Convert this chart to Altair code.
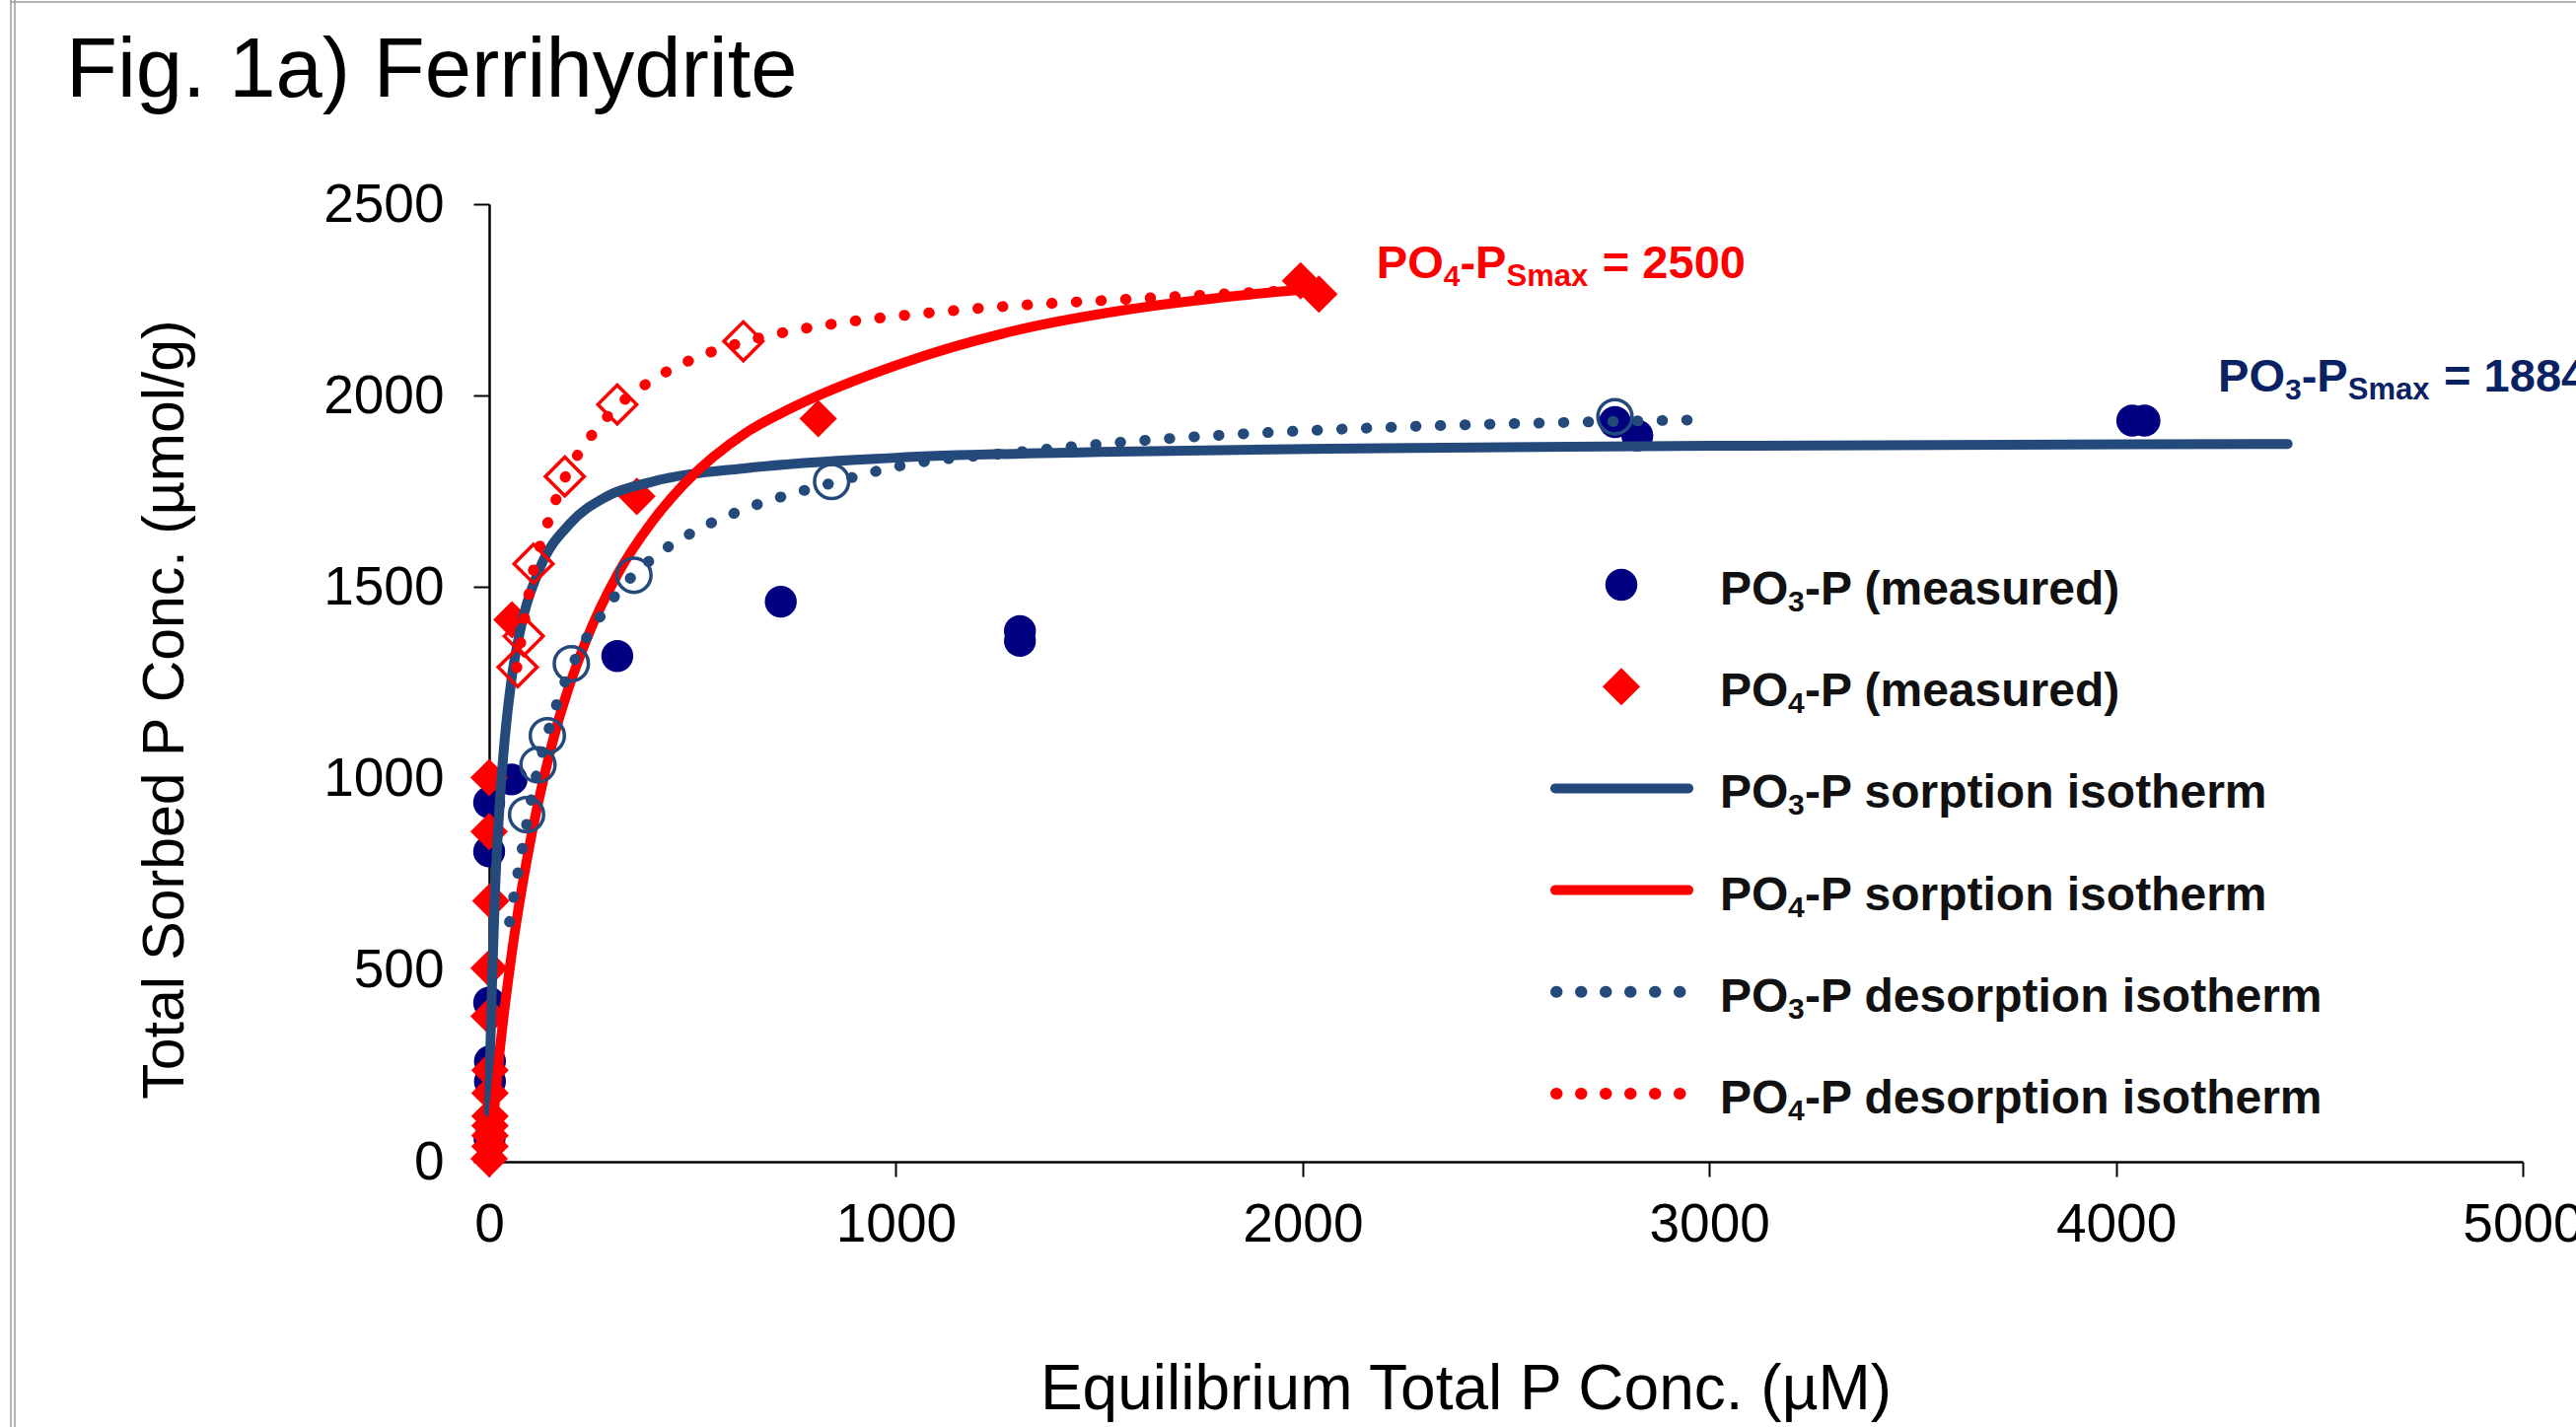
import altair as alt
import pandas as pd

FONT = "Liberation Sans"
BLUE = "#244A7C"
NAVY = "#000080"
RED = "#FF0000"
DARKBLUE = "#0A2164"
INK = "#111111"

# ---------------- data ----------------
# PO3-P measured (filled navy circles)
po3_meas_c = [1, 2, 2, 0, 0, 0, 55, 315, 717, 1305, 1305, 2768, 2823, 4040, 4070]
po3_meas_s = [60, 210, 262, 415, 810, 938, 998, 1320, 1462, 1385, 1360, 1931, 1896, 1935, 1935]

# PO4-P measured (filled red diamonds)
po4_meas_c = [0, 2, 2, 2, 2, 2, 2, 0, 0, 4, 0, 0, 56, 363, 809, 1995, 2040]
po4_meas_s = [8, 40, 68, 94, 119, 179, 239, 380, 505, 681, 862, 1003, 1415, 1737, 1940, 2300, 2265]

# PO3-P desorption measured (open circles)
po3_des_c = [92, 120, 143, 202, 356, 842, 2768]
po3_des_s = [906, 1036, 1112, 1300, 1531, 1776, 1945]

# PO4-P desorption measured (open diamonds)
po4_des_c = [70, 85, 109, 186, 315, 625]
po4_des_s = [1291, 1372, 1561, 1789, 1977, 2142]

# PO3-P sorption isotherm (solid blue)
po3_sorp_c = [0, 3, 8, 15, 25, 38, 55, 77, 125, 198, 286, 400, 642, 1000, 1500, 2200, 3000, 4422]
po3_sorp_s = [130, 300, 500, 720, 920, 1100, 1260, 1390, 1550, 1665, 1735, 1775, 1812, 1838, 1853, 1863, 1869, 1874]

# PO4-P sorption isotherm (solid red)
po4_sorp_c = [2, 25, 57, 93, 152, 238, 319, 400, 480, 634, 738, 1016, 1294, 1572, 1850, 2010]
po4_sorp_s = [20, 280, 555, 790, 1080, 1360, 1540, 1670, 1770, 1905, 1965, 2085, 2170, 2225, 2262, 2278]

# PO3-P desorption isotherm (dotted blue)
po3_desc_c = [50, 70, 89, 108, 139, 171, 220, 280, 319, 400, 500, 614, 843, 1016, 1294, 1572, 1850, 2128, 2407, 2685, 2977]
po3_desc_s = [626, 750, 862, 970, 1100, 1210, 1330, 1434, 1490, 1574, 1643, 1698, 1772, 1818, 1852, 1880, 1900, 1914, 1924, 1931, 1937]

# PO4-P desorption isotherm (dotted red)
po4_desc_c = [68, 82, 101, 109, 137, 156, 186, 230, 266, 315, 400, 500, 625, 738, 864, 1051, 1294, 1538, 1781, 2000]
po4_desc_s = [1290, 1385, 1500, 1545, 1645, 1705, 1785, 1865, 1915, 1972, 2040, 2095, 2140, 2168, 2190, 2213, 2235, 2250, 2264, 2276]

# tick values
x_ticks = [0, 1000, 2000, 3000, 4000, 5000]
y_ticks = [0, 500, 1000, 1500, 2000, 2500]

# legend labels (main text, subscript digit, rest)
leg_main = ["PO", "PO", "PO", "PO", "PO", "PO"]
leg_sub = ["3", "4", "3", "4", "3", "4"]
leg_rest = ["-P (measured)", "-P (measured)", "-P sorption isotherm",
            "-P sorption isotherm", "-P desorption isotherm", "-P desorption isotherm"]

# annotations
ann_po4 = {"c": 2182, "s": 2307, "sub": "4", "val": "= 2500"}
ann_po3 = {"c": 4251, "s": 2011, "sub": "3", "val": "= 1884"}

title_text = "Fig. 1a) Ferrihydrite"
x_title = "Equilibrium Total P Conc. (µM)"
y_title = "Total Sorbed P Conc. (µmol/g)"

# ---------------- chart ----------------
W, H = 2062, 971


def df(c, s):
    return pd.DataFrame({"c": c, "s": s})


x_axis = alt.Axis(values=x_ticks, format="d", title=x_title, grid=False,
                  labelFont=FONT, labelFontSize=55, labelColor="black",
                  labelPadding=22, labelFlush=False, labelOverlap=False,
                  tickSize=15, tickWidth=2, tickColor="black",
                  domainColor="black", domainWidth=2.5,
                  titleFont=FONT, titleFontSize=64, titleFontWeight="normal",
                  titleColor="black", titleX=990, titleY=250,
                  titleBaseline="alphabetic", titleAlign="center")
y_axis = alt.Axis(values=y_ticks, format="d", title=y_title, grid=False,
                  labelFont=FONT, labelFontSize=55, labelColor="black",
                  labelPadding=30, labelOverlap=False, labelFlush=False,
                  tickSize=16, tickWidth=2, tickColor="black",
                  domainColor="black", domainWidth=2.5,
                  titleFont=FONT, titleFontSize=59, titleFontWeight="normal",
                  titleColor="black", titleX=-329, titleY=512, titleAngle=-90,
                  titleBaseline="middle", titleAlign="center")

X = alt.X("c:Q", scale=alt.Scale(domain=[0, 5000], nice=False, zero=False), axis=x_axis)
Y = alt.Y("s:Q", scale=alt.Scale(domain=[0, 2500], nice=False, zero=False), axis=y_axis)

DOT_SIZE, DIA_SIZE, OPEN_CIRC, OPEN_DIA = 1050, 1450, 1200, 1550

layers = []

# measured PO3
layers.append(alt.Chart(df(po3_meas_c, po3_meas_s)).mark_point(
    shape="circle", filled=True, size=DOT_SIZE, color=NAVY, opacity=1, strokeWidth=0
).encode(x=X, y=Y))
# measured PO4
layers.append(alt.Chart(df(po4_meas_c, po4_meas_s)).mark_point(
    shape="diamond", filled=True, size=DIA_SIZE, color=RED, opacity=1, strokeWidth=0
).encode(x=X, y=Y))
# sorption isotherms
layers.append(alt.Chart(df(po3_sorp_c, po3_sorp_s)).mark_line(
    color=BLUE, strokeWidth=10, interpolate="monotone", strokeCap="round"
).encode(x=X, y=Y))
layers.append(alt.Chart(df(po4_sorp_c, po4_sorp_s)).mark_line(
    color=RED, strokeWidth=10, interpolate="monotone", strokeCap="round"
).encode(x=X, y=Y))
# PO3 desorption
layers.append(alt.Chart(df(po3_desc_c, po3_desc_s)).mark_line(
    color=BLUE, strokeWidth=11, interpolate="monotone", strokeCap="round",
    strokeDash=[0.5, 24.5]
).encode(x=X, y=Y))
layers.append(alt.Chart(df(po3_des_c, po3_des_s)).mark_point(
    shape="circle", filled=False, size=OPEN_CIRC, color=BLUE, opacity=1, strokeWidth=3.5
).encode(x=X, y=Y))
# PO4 desorption
layers.append(alt.Chart(df(po4_desc_c, po4_desc_s)).mark_line(
    color=RED, strokeWidth=11, interpolate="monotone", strokeCap="round",
    strokeDash=[0.5, 24.5]
).encode(x=X, y=Y))
layers.append(alt.Chart(df(po4_des_c, po4_des_s)).mark_point(
    shape="diamond", filled=False, size=OPEN_DIA, color=RED, opacity=1, strokeWidth=3.5
).encode(x=X, y=Y))

# annotations with subscripts (anchored in data space)
MAIN_FS, SUB_FS = 47, 31


def annotation(a, color):
    d = pd.DataFrame({"c": [a["c"]], "s": [a["s"]]})
    pieces = [("PO", 0, 0, MAIN_FS), (a["sub"], 68, 8, SUB_FS - 1),
              ("-P", 84.6, 0, MAIN_FS), ("Smax", 131.6, 8, SUB_FS),
              (a["val"], 229, 0, MAIN_FS)]
    out = []
    for txt, dx, dy, fs in pieces:
        out.append(alt.Chart(d).mark_text(
            text=txt, font=FONT, fontSize=fs, fontWeight="bold", color=color,
            align="left", baseline="alphabetic", dx=dx, dy=dy
        ).encode(x=X, y=Y))
    return out


layers += annotation(ann_po4, RED)
layers += annotation(ann_po3, DARKBLUE)

# legend (pixel layout inside the plot area)
one = pd.DataFrame({"k": [0]})
LEG_Y0, LEG_DY = 386, 103.2
LEG_FS = 48
sym_styles = [
    ("circle", NAVY), ("diamond", RED),
    ("solid", BLUE), ("solid", RED),
    ("dot", BLUE), ("dot", RED),
]
for i, (kind, col) in enumerate(sym_styles):
    yc = LEG_Y0 + LEG_DY * i
    if kind == "circle":
        layers.append(alt.Chart(one).mark_point(
            shape="circle", filled=True, size=DOT_SIZE, color=col, opacity=1, strokeWidth=0
        ).encode(x=alt.value(1148), y=alt.value(yc)))
    elif kind == "diamond":
        layers.append(alt.Chart(one).mark_point(
            shape="diamond", filled=True, size=DIA_SIZE, color=col, opacity=1, strokeWidth=0
        ).encode(x=alt.value(1148), y=alt.value(yc)))
    elif kind == "solid":
        layers.append(alt.Chart(one).mark_rule(
            color=col, strokeWidth=10, strokeCap="round"
        ).encode(x=alt.value(1081), x2=alt.value(1216), y=alt.value(yc)))
    else:
        layers.append(alt.Chart(one).mark_rule(
            color=col, strokeWidth=12, strokeCap="round", strokeDash=[0.5, 24.5]
        ).encode(x=alt.value(1082), x2=alt.value(1210), y=alt.value(yc)))
    base_y = yc + 20
    layers.append(alt.Chart(one).mark_text(
        text=leg_main[i], font=FONT, fontSize=LEG_FS, fontWeight="bold", color=INK,
        align="left", baseline="alphabetic"
    ).encode(x=alt.value(1248), y=alt.value(base_y)))
    layers.append(alt.Chart(one).mark_text(
        text=leg_sub[i], font=FONT, fontSize=30, fontWeight="bold", color=INK,
        align="left", baseline="alphabetic"
    ).encode(x=alt.value(1317), y=alt.value(base_y + 7)))
    layers.append(alt.Chart(one).mark_text(
        text=leg_rest[i], font=FONT, fontSize=LEG_FS, fontWeight="bold", color=INK,
        align="left", baseline="alphabetic"
    ).encode(x=alt.value(1334), y=alt.value(base_y)))

# figure title
layers.append(alt.Chart(one).mark_text(
    text=title_text, font=FONT, fontSize=85, color="black",
    align="left", baseline="alphabetic"
).encode(x=alt.value(-429), y=alt.value(-109)))

# slide frame (left double line, top line)
FRAME = "#9a9a9a"
layers.append(alt.Chart(one).mark_rule(color=FRAME, strokeWidth=1.5).encode(
    x=alt.value(-485), y=alt.value(-207), y2=alt.value(1240)))
layers.append(alt.Chart(one).mark_rule(color=FRAME, strokeWidth=1.5).encode(
    x=alt.value(-481), y=alt.value(-207), y2=alt.value(1240)))
layers.append(alt.Chart(one).mark_rule(color=FRAME, strokeWidth=1.5).encode(
    x=alt.value(-485), x2=alt.value(2116), y=alt.value(-205)))

chart = alt.layer(*layers).properties(
    width=W, height=H,
    autosize=alt.AutoSizeParams(type="none"),
    padding={"left": 496, "top": 207, "right": 54, "bottom": 269},
    background="white",
).configure_view(stroke=None)

chart.save("out.html", embed_options={"renderer": "svg", "actions": False})
